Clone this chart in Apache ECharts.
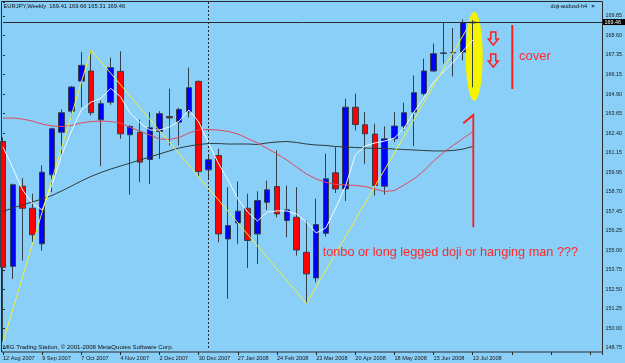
<!DOCTYPE html>
<html><head><meta charset="utf-8">
<script src="https://cdn.jsdelivr.net/npm/echarts@6/dist/echarts.min.js"></script>
<style>html,body{margin:0;padding:0;background:#8acff8;}#c{width:625px;height:363px;}</style>
</head><body><div id="c"></div>
<script>
// ---- data ----
const weeks = ['2007-08-12','2007-08-19','2007-08-26','2007-09-02','2007-09-09','2007-09-16','2007-09-23','2007-09-30','2007-10-07','2007-10-14','2007-10-21','2007-10-28','2007-11-04','2007-11-11','2007-11-18','2007-11-25','2007-12-02','2007-12-09','2007-12-16','2007-12-23','2007-12-30','2008-01-06','2008-01-13','2008-01-20','2008-01-27','2008-02-03','2008-02-10','2008-02-17','2008-02-24','2008-03-02','2008-03-09','2008-03-16','2008-03-23','2008-03-30','2008-04-06','2008-04-13','2008-04-20','2008-04-27','2008-05-04','2008-05-11','2008-05-18','2008-05-25','2008-06-01','2008-06-08','2008-06-15','2008-06-22','2008-06-29','2008-07-06','2008-07-13'];
const opens  = [161.87,153.94,159.03,157.63,155.37,159.75,162.46,163.80,165.71,166.35,163.25,164.37,166.33,162.30,162.45,160.73,162.51,163.46,163.10,163.74,165.69,160.07,160.98,155.68,156.70,157.63,156.00,158.01,159.01,156.85,157.06,154.83,153.20,156.04,159.88,158.86,164.05,162.93,162.34,159.03,162.04,162.85,163.74,164.91,166.35,167.47,167.52,167.55,169.41];
const closes = [153.88,159.12,157.63,155.94,159.92,162.68,163.70,165.33,166.71,163.70,164.27,166.56,162.36,162.83,160.56,162.74,163.64,163.37,163.91,165.29,159.96,160.71,156.00,156.53,157.44,155.58,158.12,158.80,157.27,157.53,154.98,153.46,156.59,159.50,158.86,164.05,162.95,162.36,159.07,162.04,162.85,163.70,164.97,166.35,167.45,167.50,167.51,169.42,169.46];
const lows   = [149.15,153.14,154.30,155.47,154.94,158.65,160.87,163.42,164.05,163.53,160.30,164.20,162.04,158.50,159.28,159.18,160.77,161.62,161.62,163.40,159.60,159.50,155.47,151.87,155.37,153.84,154.09,157.53,157.06,155.79,154.62,151.58,152.92,155.83,158.60,158.09,162.57,160.45,158.44,158.50,161.83,162.57,161.57,164.80,166.30,166.82,166.01,167.03,165.31];
const highs  = [162.13,159.20,159.54,158.55,160.35,162.75,163.91,165.40,167.55,167.68,164.48,167.20,167.60,162.90,163.27,163.74,163.80,165.23,164.00,166.56,165.75,161.05,161.41,158.97,159.33,158.55,158.71,159.39,161.30,159.07,158.97,156.85,158.23,161.10,161.51,164.59,164.91,163.74,163.00,162.83,163.74,164.33,166.07,167.13,168.09,169.45,169.08,169.63,169.66];
const maFast = [161.52,160.19,158.79,157.96,157.52,159.11,161.01,162.54,163.87,164.38,164.61,165.25,164.72,163.68,163.05,162.60,162.60,162.79,163.17,163.87,163.11,161.78,160.50,159.42,158.22,157.39,156.82,157.39,157.46,157.46,157.26,156.76,156.06,156.38,157.65,159.04,161.01,161.58,161.78,161.90,162.09,162.73,163.74,164.63,165.65,166.29,166.92,167.62,168.32];
const maMid  = [163.36,163.36,163.30,163.17,162.98,162.86,162.82,162.89,163.05,163.14,163.17,163.14,163.05,162.76,162.54,162.28,162.03,162.00,162.12,162.41,162.60,162.63,162.60,162.51,162.35,162.06,161.78,161.43,161.08,160.70,160.25,159.81,159.49,159.27,159.14,159.11,159.08,159.01,158.85,158.69,158.76,159.11,159.49,160.00,160.63,161.17,161.62,162.06,162.49];
const maSlow = [157.42,157.65,157.84,158.03,158.22,158.44,158.73,159.04,159.36,159.65,159.90,160.12,160.31,160.50,160.70,160.89,161.08,161.27,161.46,161.58,161.68,161.74,161.74,161.71,161.71,161.71,161.68,161.78,161.84,161.87,161.81,161.71,161.65,161.62,161.55,161.52,161.49,161.46,161.43,161.43,161.39,161.36,161.33,161.30,161.27,161.27,161.30,161.39,161.55];
const zigzagIdx = [0, 9, 31, 48];
const zigzagVal = [149.15, 167.68, 151.58, 169.66];
const xTickLabels = ['12 Aug 2007','9 Sep 2007','7 Oct 2007','4 Nov 2007','2 Dec 2007','30 Dec 2007','27 Jan 2008','24 Feb 2008','23 Mar 2008','20 Apr 2008','18 May 2008','15 Jun 2008','13 Jul 2008'];
const yTickLabels = ['148.75','150.00','151.25','152.50','153.75','155.00','156.25','157.45','158.70','159.95','161.15','162.40','163.65','164.90','166.15','167.35','168.60','169.85'];
const bidPrice = 169.46;
const separatorIdx = 21;

// ---- chart ----
const FONT = '"Liberation Sans", Arial, sans-serif';
const yMin = 148.75, yTop = 169.85, yStep = (yTop - yMin) / 17, yMax = 170.734;
const last = weeks.length - 1;
const chart = echarts.init(document.getElementById('c'), null, {renderer: 'canvas', width: 625, height: 363});
chart.setOption({
  animation: false,
  backgroundColor: '#8acff8',
  grid: {left: 2, right: 22.5, top: 2, bottom: 15},
  xAxis: {
    type: 'value', min: 0, max: 61.21, interval: 4, offset: 4,
    axisLine: {show: false},
    axisTick: {show: true, length: 3, lineStyle: {color: '#2a2a2a'}},
    splitLine: {show: false},
    axisLabel: {show: true, margin: 3.5, fontSize: 5.6, fontFamily: FONT, color: '#1a1a1a', align: 'left',
      formatter: v => (v % 4 === 0 && v / 4 < xTickLabels.length) ? xTickLabels[v / 4] : ''}
  },
  yAxis: {
    type: 'value', position: 'right', min: yMin, max: yMax, interval: yStep, scale: true,
    axisLine: {show: false},
    axisTick: {show: true, length: 2, lineStyle: {color: '#2a2a2a'}},
    splitLine: {show: false},
    axisLabel: {show: true, margin: 3.5, fontSize: 5.4, fontFamily: FONT, color: '#1a1a1a',
      formatter: v => { const n = Math.round((v - yMin) / yStep); return (Math.abs(v - (yMin + n * yStep)) < 1e-6 && n >= 0 && n < yTickLabels.length) ? yTickLabels[n] : ''; }}
  },
  series: [
    {type: 'candlestick', z: 2, barWidth: 6,
     data: weeks.map((d, i) => [i, opens[i], closes[i], lows[i], highs[i]]),
     itemStyle: {color: '#0000ff', color0: '#ff0000', borderColor: '#333f4a', borderColor0: '#333f4a', borderWidth: 1},
     markLine: {silent: true, symbol: ['none', 'none'], label: {show: false}, animation: false,
       data: [
         {xAxis: separatorIdx, lineStyle: {type: [2, 2], color: '#2a2a2a', width: 1}},
         {yAxis: bidPrice, lineStyle: {type: 'solid', color: '#2a2a2a', width: 1}}
       ]}
    },
    {type: 'line', z: 3, symbol: 'none', data: maSlow.map((v, i) => [i, v]), lineStyle: {color: '#2d3b3b', width: 1}},
    {type: 'line', z: 3, symbol: 'none', data: maMid.map((v, i) => [i, v]), lineStyle: {color: '#e0485c', width: 1}},
    {type: 'line', z: 3, symbol: 'none', data: maFast.map((v, i) => [i, v]), lineStyle: {color: '#f4fbff', width: 1}},
    {type: 'line', z: 4, symbol: 'none', data: zigzagIdx.map((x, k) => [x, zigzagVal[k]]), lineStyle: {color: '#f0f03a', width: 1}}
  ]
});

const bidY = chart.convertToPixel({seriesIndex: 0}, [0, bidPrice])[1];
const fmt = v => v.toFixed(2);
chart.setOption({
  graphic: [
    {type: 'rect', z: 0, silent: true, shape: {x: 1.5, y: 1.5, width: 601, height: 350.5}, style: {fill: null, stroke: '#2a2a2a', lineWidth: 1}},
    {type: 'ellipse', z: 1, silent: true, shape: {cx: 474.2, cy: 56.2, rx: 8.5, ry: 44.5}, style: {fill: '#f4f400'}},
    {type: 'text', z: 10, silent: true, style: {text: 'EURJPY,Weekly  ' + [opens[last], highs[last], lows[last], closes[last]].map(fmt).join(' '), x: 3.5, y: 6.5, font: '5.8px ' + FONT, fill: '#111', verticalAlign: 'middle'}},
    {type: 'text', z: 10, silent: true, style: {text: 'doji-audusd-h4', x: 587, y: 6.5, font: '5.5px ' + FONT, fill: '#111', align: 'right', verticalAlign: 'middle'}},
    {type: 'text', z: 10, silent: true, style: {text: '×', x: 593, y: 6.5, font: 'bold 6px ' + FONT, fill: '#111', align: 'center', verticalAlign: 'middle'}},
    {type: 'text', z: 10, silent: true, style: {text: 'MIG Trading Station, © 2001-2008 MetaQuotes Software Corp.', x: 3, y: 347.5, font: '6.1px ' + FONT, fill: '#111', verticalAlign: 'middle'}},
    {type: 'rect', z: 10, silent: true, shape: {x: 603, y: bidY - 3, width: 22, height: 6}, style: {fill: '#000'}},
    {type: 'text', z: 11, silent: true, style: {text: fmt(bidPrice), x: 604.5, y: bidY, font: '5.4px ' + FONT, fill: '#fff', verticalAlign: 'middle'}},
    {type: 'polygon', z: 10, silent: true, shape: {points: [[490.8,32],[495.8,32],[495.8,39],[498.3,39],[493.3,45],[488.3,39],[490.8,39]]}, style: {fill: null, stroke: '#ff2020', lineWidth: 1.5}},
    {type: 'polygon', z: 10, silent: true, shape: {points: [[490.8,54],[495.8,54],[495.8,61],[498.3,61],[493.3,67],[488.3,61],[490.8,61]]}, style: {fill: null, stroke: '#ff2020', lineWidth: 1.5}},
    {type: 'line', z: 10, silent: true, shape: {x1: 512.3, y1: 25, x2: 512.3, y2: 89}, style: {stroke: '#ff1a1a', lineWidth: 2}},
    {type: 'text', z: 10, silent: true, style: {text: 'cover', x: 519, y: 56, font: '13px ' + FONT, fill: '#ff2a2a', verticalAlign: 'middle'}},
    {type: 'polyline', z: 10, silent: true, shape: {points: [[463.3,123.3],[473.3,115],[473.3,227.3]]}, style: {stroke: '#ff1a1a', lineWidth: 1.8, fill: null}},
    {type: 'text', z: 10, silent: true, style: {text: 'tonbo or long legged doji or hanging man ???', x: 322.7, y: 252.7, font: '12.7px ' + FONT, fill: '#ff2a2a', verticalAlign: 'middle'}}
  ]
});
</script>
</body></html>
